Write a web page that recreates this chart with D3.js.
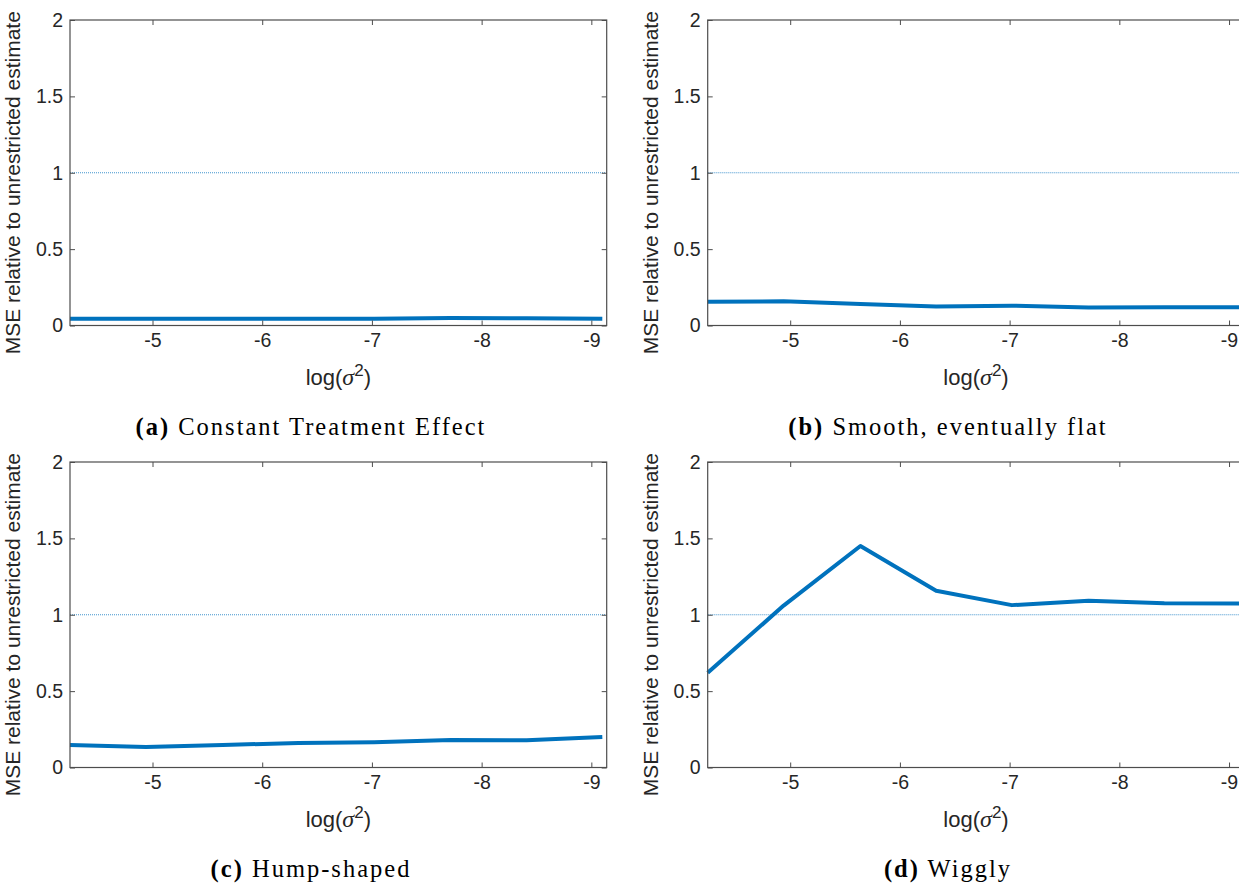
<!DOCTYPE html>
<html>
<head>
<meta charset="utf-8">
<script src="https://cdn.jsdelivr.net/npm/d3@7"></script>
<style>
  html, body { margin: 0; padding: 0; background: #fff; }
  svg { display: block; }
</style>
</head>
<body>
<svg id="chart" width="1239" height="883"></svg>
<script>
// log(sigma^2) grid, shared by all four panels
var logSigma2 = [-4.248, -4.94, -5.64, -6.33, -7.02, -7.72, -8.41, -9.10];

// MSE relative to unrestricted estimate
var constantEffect = [0.045, 0.044, 0.044, 0.044, 0.045, 0.049, 0.048, 0.044];
var smoothFlat     = [0.155, 0.158, 0.14, 0.125, 0.13, 0.118, 0.12, 0.12];
var humpShaped     = [0.148, 0.135, 0.148, 0.16, 0.165, 0.18, 0.178, 0.2];
var wiggly         = [0.62, 1.06, 1.45, 1.157, 1.063, 1.092, 1.075, 1.073];

var panelLetters  = ["(a)", "(b)", "(c)", "(d)"];
var panelTitles   = ["Constant Treatment Effect", "Smooth, eventually flat", "Hump-shaped", "Wiggly"];
var panelSeries   = [constantEffect, smoothFlat, humpShaped, wiggly];

var xTicks = [-5, -6, -7, -8, -9];
var yTicks = [0, 0.5, 1, 1.5, 2];
var refLevel = 1;

var xDomain = [-4.248, -9.14];
var yDomain = [0, 2];

var plotW = 536.7, plotH = 305.5;
var origins = [[70, 20], [707.7, 20], [70, 462], [707.7, 462]];
var captionX = [311, 948];

var lineColor = "#0072BD";
var axisColor = "#4d4d4d";
var sans = "'Liberation Sans', Arial, sans-serif";

var x = d3.scaleLinear().domain(xDomain).range([0, plotW]);
var y = d3.scaleLinear().domain(yDomain).range([plotH, 0]);

var svg = d3.select("#chart");
svg.append("rect").attr("width", 1239).attr("height", 883).attr("fill", "#fff");

panelSeries.forEach(function(series, i) {
    var ox = origins[i][0], oy = origins[i][1];
    var g = svg.append("g").attr("transform", "translate(" + ox + "," + oy + ")");

    // reference line at 1
    g.append("line")
        .attr("x1", x(xDomain[0])).attr("x2", x(xDomain[1]))
        .attr("y1", y(refLevel)).attr("y2", y(refLevel))
        .attr("stroke", lineColor)
        .attr("stroke-opacity", 0.75)
        .attr("stroke-width", 1)
        .attr("stroke-dasharray", "1,1");

    // series
    var pts = series.map(function(v, k) { return [logSigma2[k], v]; });
    var line = d3.line().x(d => x(d[0])).y(d => y(d[1]));
    g.append("path")
        .datum(pts)
        .attr("d", line)
        .attr("fill", "none")
        .attr("stroke", lineColor)
        .attr("stroke-width", 4)
        .attr("stroke-linejoin", "round");

    // axes (ticks inward, box all round)
    var xa = g.append("g").attr("transform", "translate(0," + plotH + ")")
        .call(d3.axisBottom(x).tickValues(xTicks).tickSizeInner(-5).tickSizeOuter(0).tickPadding(7.5)
              .tickFormat(d => String(d)));
    var xt = g.append("g")
        .call(d3.axisTop(x).tickValues(xTicks).tickSizeInner(-5).tickSizeOuter(0).tickFormat(""));
    var ya = g.append("g")
        .call(d3.axisLeft(y).tickValues(yTicks).tickSizeInner(-5).tickSizeOuter(0).tickPadding(7)
              .tickFormat(d => String(d)));
    var yr = g.append("g").attr("transform", "translate(" + plotW + ",0)")
        .call(d3.axisRight(y).tickValues(yTicks).tickSizeInner(-5).tickSizeOuter(0).tickFormat(""));

    [xa, xt, ya, yr].forEach(function(a) {
        a.select(".domain").remove();
        a.selectAll(".tick line").attr("stroke", axisColor).attr("stroke-width", 1);
        a.selectAll(".tick text")
            .attr("fill", "#262626")
            .style("font-family", sans)
            .style("font-size", "19.5px");
    });

    g.append("rect")
        .attr("width", plotW).attr("height", plotH)
        .attr("fill", "none")
        .attr("stroke", axisColor)
        .attr("stroke-width", 1.2);

    // y label
    g.append("text")
        .attr("transform", "translate(-50," + (plotH / 2 + 10) + ") rotate(-90)")
        .attr("text-anchor", "middle")
        .attr("fill", "#262626")
        .style("font-family", sans)
        .style("font-size", "21px")
        .text("MSE relative to unrestricted estimate");

    // x label
    var xl = g.append("text")
        .attr("x", plotW / 2)
        .attr("y", plotH + 59)
        .attr("text-anchor", "middle")
        .attr("fill", "#262626")
        .style("font-family", sans)
        .style("font-size", "22px");
    xl.append("tspan").text("log(");
    xl.append("tspan").style("font-family", "'Liberation Serif', serif").style("font-style", "italic")
        .style("font-size", "24px").text("σ");
    xl.append("tspan").attr("dy", -9).style("font-size", "17px").text("2");
    xl.append("tspan").attr("dy", 9).text(")");

    // caption
    var cap = svg.append("text")
        .attr("x", captionX[i % 2])
        .attr("y", oy + 415)
        .attr("text-anchor", "middle")
        .attr("fill", "#000")
        .style("font-family", "'Liberation Serif', 'Times New Roman', serif")
        .style("font-size", "24.5px")
        .style("letter-spacing", "2px");
    cap.append("tspan").style("font-weight", "bold").text(panelLetters[i]);
    cap.append("tspan").text(" " + panelTitles[i]);
});
</script>
</body>
</html>
